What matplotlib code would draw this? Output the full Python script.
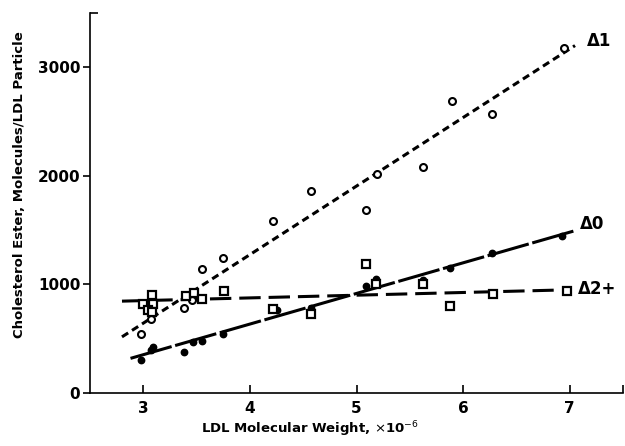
import matplotlib.pyplot as plt
import numpy as np

# Data (LDL MW x10^-6, CE molecules per particle)
d1_x = [2.98, 3.07, 3.38, 3.46, 3.55, 3.75, 4.22, 4.57, 5.09, 5.19, 5.62, 5.90, 6.27, 6.95]
d1_y = [542, 677, 781, 855, 1140, 1244, 1585, 1860, 1690, 2013, 2086, 2693, 2571, 3177]

d0_x = [2.98, 3.07, 3.09, 3.38, 3.47, 3.55, 3.75, 4.25, 4.57, 5.09, 5.18, 5.62, 5.88, 6.27, 6.93]
d0_y = [303, 395, 426, 380, 472, 481, 542, 763, 784, 986, 1054, 1045, 1155, 1293, 1446]

d2_x = [3.00, 3.08, 3.09, 3.04, 3.08, 3.40, 3.48, 3.55, 3.76, 4.22, 4.57, 5.09, 5.18, 5.62, 5.88, 6.28, 6.97]
d2_y = [818, 907, 818, 763, 747, 892, 922, 867, 940, 778, 726, 1192, 1008, 1002, 800, 916, 940]

# regression lines as drawn (end points)
fit1_x, fit1_y = [2.80, 7.05], [517, 3200]
fit0_x, fit0_y = [2.88, 7.06], [319, 1498]
fit2_x, fit2_y = [2.80, 6.85], [846, 947]

labels = ['Δ1', 'Δ0', 'Δ2+']
label_x = [7.16, 7.10, 7.08]
label_y = [3240, 1555, 960]

fig = plt.figure(figsize=(6.25, 4.46), dpi=100)
ax = fig.add_axes([90/625, 1 - 393/446, 533/625, 380/446])

lw = 2.2
ax.plot(fit1_x, fit1_y, color='black', lw=lw, dashes=(2.4, 1.5))
ax.plot(fit0_x, fit0_y, color='black', lw=lw, dashes=(14, 1.2))
ax.plot(fit2_x, fit2_y, color='black', lw=lw, dashes=(7, 2.6))

ax.plot(d1_x, d1_y, 'o', ms=5, mfc='white', mec='black', mew=1.5)
ax.plot(d0_x, d0_y, 'o', ms=4.6, mfc='black', mec='black', mew=1)
ax.plot(d2_x, d2_y, 's', ms=5.5, mfc='white', mec='black', mew=1.6)

for lab, lx, ly in zip(labels, label_x, label_y):
    ax.text(lx, ly, lab, fontsize=12, fontweight='bold', ha='left', va='center')

ax.set_xlim(2.5, 7.5)
ax.set_ylim(0, 3500)
ax.set_xticks([3, 4, 5, 6, 7])
ax.set_yticks([0, 1000, 2000, 3000])
ax.set_xticks([7.5], minor=True)
ax.set_yticks([3500], minor=True)
ax.tick_params(axis='x', which='major', direction='in', length=6, width=1.2,
               labelsize=11, pad=6)
ax.tick_params(axis='y', which='major', direction='out', length=5, width=1.2,
               labelsize=11, pad=2)
ax.tick_params(which='minor', direction='in', length=6, width=1.2)
for t in ax.get_xticklabels() + ax.get_yticklabels():
    t.set_fontweight('bold')

ax.spines[['top', 'right']].set_visible(False)
ax.spines['left'].set_linewidth(1.2)
ax.spines['bottom'].set_linewidth(1.2)

fig.text(20/625, 1 - 185/446, 'Cholesterol Ester, Molecules/LDL Particle',
         rotation=90, ha='center', va='center', fontsize=9.5, fontweight='bold')
fig.text(310/625, 1 - 429/446, 'LDL Molecular Weight, $\\times$10$^{-6}$',
         ha='center', va='center', fontsize=9.5, fontweight='bold')

fig.savefig('out.png', dpi=100)
